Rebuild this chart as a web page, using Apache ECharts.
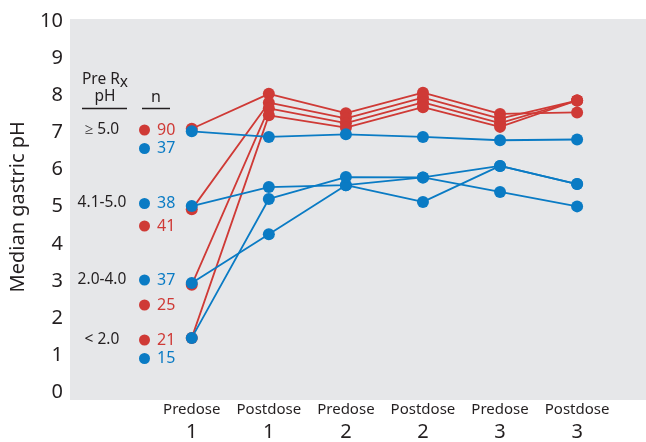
<!DOCTYPE html>
<html>
<head>
<meta charset="utf-8">
<script src="https://cdn.jsdelivr.net/npm/echarts@6/dist/echarts.min.js"></script>
<style>
html,body{margin:0;padding:0;background:#fff;}
#main{width:646px;height:442px;}
</style>
</head>
<body>
<div id="main"></div>
<script>
// ---- data ----
var timepoints = ['Predose', 'Postdose', 'Predose', 'Postdose', 'Predose', 'Postdose'];
var doseNumbers = ['1', '1', '2', '2', '3', '3'];
var yTicks = [0, 1, 2, 3, 4, 5, 6, 7, 8, 9, 10];

var preRxGroups = ['\u2265 5.0', '4.1-5.0', '2.0-4.0', '< 2.0'];
var redN = [90, 41, 25, 21];
var blueN = [37, 38, 37, 15];

var red1 = [7.10, 8.04, 7.52, 8.07, 7.50, 7.54];
var red2 = [4.93, 7.80, 7.38, 7.94, 7.37, 7.86];
var red3 = [2.90, 7.65, 7.25, 7.81, 7.25, 7.86];
var red4 = [1.47, 7.46, 7.13, 7.68, 7.15, 7.86];

var blue1 = [7.03, 6.88, 6.95, 6.88, 6.79, 6.81];
var blue2 = [5.02, 5.53, 5.58, 5.79, 6.10, 5.61];
var blue3 = [2.95, 4.26, 5.58, 5.13, 6.10, 5.61];
var blue4 = [1.47, 5.21, 5.80, 5.79, 5.40, 5.01];

var redSeries = [red1, red2, red3, red4];
var blueSeries = [blue1, blue2, blue3, blue4];

// ---- styles ----
var RED = '#cf3a36';
var BLUE = '#0a7bc4';
var TXT = '#231f20';
var FONT = 'Noto Sans';

function mkSeries(arr, color, name) {
  return {
    type: 'line',
    name: name,
    data: arr.map(function (v, i) { return [i, v]; }),
    symbol: 'circle',
    symbolSize: 12,
    itemStyle: { color: color },
    lineStyle: { color: color, width: 1.8 },
    emphasis: { disabled: true },
    animation: false
  };
}

var series = [];
redSeries.forEach(function (s, i) { series.push(mkSeries(s, RED, 'red ' + preRxGroups[i] + ' n=' + redN[i])); });
blueSeries.forEach(function (s, i) { series.push(mkSeries(s, BLUE, 'blue ' + preRxGroups[i] + ' n=' + blueN[i])); });

// ---- annotation table (left, inside plot) ----
var graphics = [
  { type: 'rect', shape: { x: 70, y: 19, width: 576, height: 381 }, style: { fill: '#e6e7e9' }, z: -10, silent: true },
  { type: 'text', x: 105, y: 80, style: { text: 'Pre R{x|x}', fill: TXT, font: '15.5px "' + FONT + '"', align: 'center', verticalAlign: 'middle',
      rich: { x: { fontSize: 15.5, fontFamily: FONT, fill: TXT, padding: [6, 0, 0, 0] } } } },
  { type: 'text', x: 105, y: 97, style: { text: 'pH', fill: TXT, font: '15.5px "' + FONT + '"', align: 'center', verticalAlign: 'middle' } },
  { type: 'line', shape: { x1: 82, y1: 108.5, x2: 127, y2: 108.5 }, style: { stroke: TXT, lineWidth: 1.5 } },
  { type: 'text', x: 156, y: 97, style: { text: 'n', fill: TXT, font: '16px "' + FONT + '"', align: 'center', verticalAlign: 'middle' } },
  { type: 'line', shape: { x1: 142, y1: 108.5, x2: 170, y2: 108.5 }, style: { stroke: TXT, lineWidth: 1.5 } }
];
var groupLabelY = [130, 203, 280, 340];
var redRowY = [130, 226, 305, 340];
var blueRowY = [148.5, 203.5, 280, 358.5];
preRxGroups.forEach(function (g, i) {
  graphics.push({ type: 'text', x: 102, y: groupLabelY[i], style: { text: g, fill: TXT, font: '15.5px "' + FONT + '"', align: 'center', verticalAlign: 'middle' } });
  graphics.push({ type: 'circle', shape: { cx: 144.5, cy: redRowY[i], r: 5.5 }, style: { fill: RED } });
  graphics.push({ type: 'text', x: 157, y: redRowY[i], style: { text: String(redN[i]), fill: RED, font: '16px "' + FONT + '"', align: 'left', verticalAlign: 'middle' } });
  graphics.push({ type: 'circle', shape: { cx: 144.5, cy: blueRowY[i], r: 5.5 }, style: { fill: BLUE } });
  graphics.push({ type: 'text', x: 157, y: blueRowY[i], style: { text: String(blueN[i]), fill: BLUE, font: '16px "' + FONT + '"', align: 'left', verticalAlign: 'middle' } });
});

var chart = echarts.init(document.getElementById('main'), null, { renderer: 'canvas' });
chart.setOption({
  animation: false,
  backgroundColor: '#ffffff',
  textStyle: { fontFamily: FONT },
  grid: { left: 70, right: 0, top: 21, bottom: 45, containLabel: false },
  xAxis: {
    type: 'value',
    min: -1.567,
    max: 5.894,
    axisLine: { show: false },
    axisTick: { show: false },
    splitLine: { show: false },
    axisLabel: {
      customValues: [0, 1, 2, 3, 4, 5],
      margin: 7,
      color: TXT,
      formatter: function (v) {
        var i = Math.round(v);
        return '{a|' + timepoints[i] + '}\n{b|' + doseNumbers[i] + '}';
      },
      rich: {
        a: { fontSize: 15, lineHeight: 20, color: TXT, fontFamily: FONT },
        b: { fontSize: 20, lineHeight: 25, color: TXT, fontFamily: FONT }
      }
    }
  },
  yAxis: {
    type: 'value',
    min: 0,
    max: 10,
    interval: 1,
    name: 'Median gastric pH',
    nameLocation: 'middle',
    nameGap: 43,
    nameTextStyle: { fontSize: 20, color: TXT, fontFamily: FONT },
    axisLine: { show: false },
    axisTick: { show: false },
    splitLine: { show: false },
    axisLabel: {
      margin: 8,
      fontSize: 20,
      color: TXT,
      fontFamily: FONT,
      formatter: function (v) { return yTicks.indexOf(v) >= 0 ? String(v) : ''; }
    }
  },
  graphic: graphics,
  series: series
});
</script>
</body>
</html>
